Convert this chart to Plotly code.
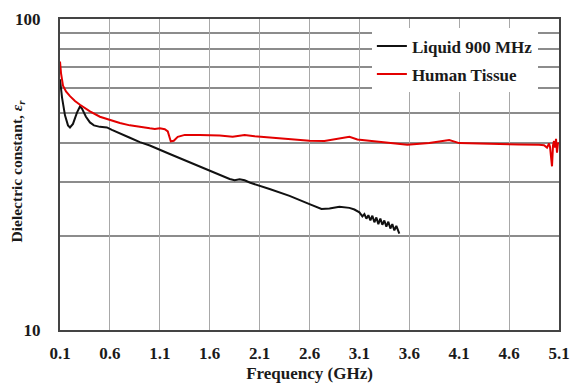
import plotly.graph_objects as go

# Liquid 900 MHz (black)
liq_f = [0.10, 0.12, 0.15, 0.18, 0.20, 0.23, 0.27, 0.30, 0.32, 0.36, 0.40, 0.44,
         0.50, 0.57, 0.62, 0.70, 0.80, 0.90, 1.00, 1.20, 1.40, 1.60, 1.80, 1.85,
         1.90, 1.95, 2.00, 2.20, 2.40, 2.60, 2.72, 2.80, 2.90, 3.00, 3.05,
         3.10, 3.13, 3.15, 3.17, 3.19, 3.21, 3.23, 3.25, 3.27, 3.29, 3.31, 3.33,
         3.35, 3.37, 3.39, 3.41, 3.43, 3.45, 3.47, 3.49, 3.50]
liq_e = [64.0, 56.0, 49.0, 45.5, 44.8, 46.0, 50.0, 52.3, 51.5, 48.5, 46.5, 45.5,
         45.0, 44.8, 44.0, 42.8, 41.5, 40.2, 39.2, 36.8, 34.6, 32.5, 30.6, 30.3,
         30.5, 30.3, 29.8, 28.4, 27.0, 25.4, 24.5, 24.6, 24.9, 24.7, 24.4,
         23.9, 23.2, 23.6, 22.8, 23.4, 22.5, 23.3, 22.2, 23.0, 21.9, 22.8, 21.8,
         22.5, 21.5, 22.3, 21.2, 21.9, 20.9, 21.6, 20.6, 20.4]

# Human Tissue (red)
hum_f = [0.10, 0.11, 0.13, 0.16, 0.20, 0.25, 0.30, 0.40, 0.50, 0.60, 0.70, 0.80,
         0.93, 1.00, 1.05, 1.10, 1.15, 1.18, 1.21, 1.24, 1.28, 1.35, 1.50, 1.70,
         1.83, 1.95, 2.05, 2.20, 2.40, 2.60, 2.75, 2.90, 3.00, 3.08, 3.20, 3.40,
         3.58, 3.80, 4.00, 4.10, 4.30, 4.50, 4.70, 4.90, 4.95, 4.98, 5.00, 5.01,
         5.03, 5.04, 5.05, 5.06, 5.07, 5.08, 5.09, 5.10]
hum_e = [73.0, 67.0, 61.0, 58.5, 56.5, 54.5, 53.0, 50.5, 48.5, 47.3, 46.3, 45.5,
         44.7, 44.5, 44.3, 44.5, 44.2, 43.5, 40.4, 40.6, 41.8, 42.4, 42.4, 42.2,
         41.8, 42.4, 42.0, 41.6, 41.2, 40.6, 40.5, 41.3, 41.8, 41.0, 40.6, 40.0,
         39.4, 39.9, 40.8, 39.9, 39.7, 39.6, 39.5, 39.4, 39.3, 38.6, 39.8, 38.8,
         33.6, 39.2, 40.5, 38.6, 41.2, 37.2, 40.0, 39.6]

x_ticks = [0.1, 0.6, 1.1, 1.6, 2.1, 2.6, 3.1, 3.6, 4.1, 4.6, 5.1]
y_ticks = [10, 100]
y_minor = [20, 30, 40, 50, 60, 70, 80, 90]
y_title = "Dielectric constant, <i>ε<sub>r</sub></i>"

serif = "Liberation Serif"
txt = "#1a1a1a"

def f(size):
    return dict(family=serif, size=size, color=txt, weight="bold")

fig = go.Figure()
fig.add_trace(go.Scatter(x=liq_f, y=liq_e, mode="lines", name="Liquid 900 MHz",
                         line=dict(color="#111111", width=2), legendgroup="a"))
fig.add_trace(go.Scatter(x=hum_f, y=hum_e, mode="lines", name="Human Tissue",
                         line=dict(color="#e30000", width=2), legendgroup="b"))

fig.update_layout(
    width=572, height=383,
    margin=dict(l=60, r=13, t=19, b=53),
    paper_bgcolor="white", plot_bgcolor="white",
    font=f(15),
    showlegend=True,
    legend=dict(x=0.625, y=0.97, xanchor="left", yanchor="top",
                bgcolor="white", borderwidth=0, font=f(17),
                traceorder="grouped", tracegroupgap=3),
    xaxis=dict(range=[0.1, 5.1], tickvals=x_ticks, ticktext=[f"{v:.1f}" for v in x_ticks],
               showgrid=True, gridcolor="#a8a8a8", gridwidth=1,
               showline=True, linecolor="#444444", linewidth=2, mirror=True,
               ticks="", zeroline=False, ticklabelstandoff=7, automargin=False,
               tickfont=f(17),
               title=dict(text="Frequency (GHz)", standoff=8, font=f(17))),
    yaxis=dict(type="log", range=[1, 2], tickvals=y_ticks, ticktext=["10", "100"],
               showgrid=True, gridcolor="#8c8c8c", gridwidth=1.5,
               minor=dict(tickvals=y_minor, showgrid=True, gridcolor="#8c8c8c",
                          gridwidth=1.5, ticks=""),
               showline=True, linecolor="#444444", linewidth=2, mirror=True,
               ticks="", zeroline=False, ticklabelstandoff=14, automargin=False,
               tickfont=f(17)),
    annotations=[dict(text=y_title, xref="paper", yref="paper", x=-0.086, y=0.51,
                      xanchor="center", yanchor="middle", textangle=-90,
                      showarrow=False, font=f(15.5))],
)

fig.write_html("out.html", config={"displayModeBar": False},
               post_script="document.body.style.margin='0';document.body.style.overflow='hidden';")
